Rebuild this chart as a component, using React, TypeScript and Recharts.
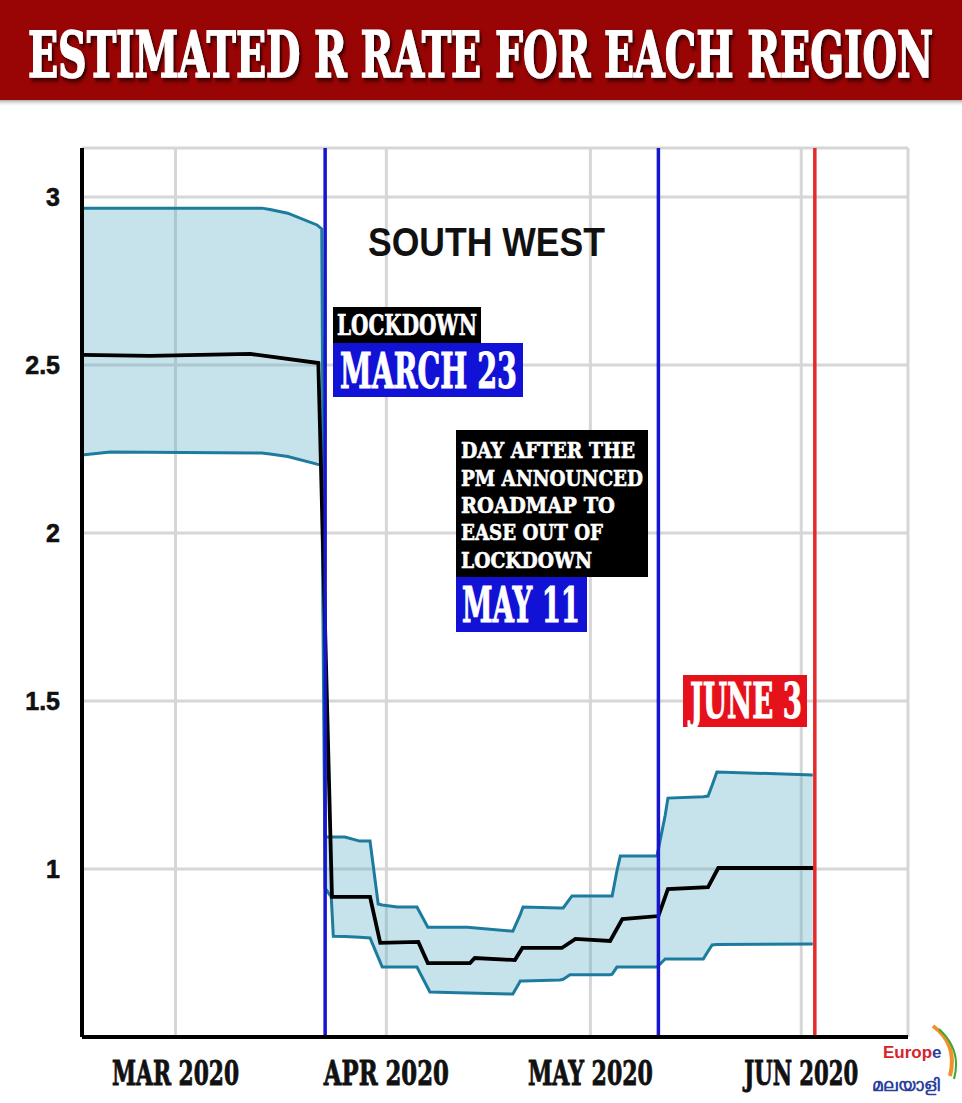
import React from 'react';
import { ComposedChart, Area, Line, XAxis, YAxis, CartesianGrid, ReferenceLine } from 'recharts';

// Days counted from 1 March 2020 (day 0)
const bandDays = [-13.75, -9.6, 12.7, 13.9, 16.5, 20.8, 21.5, 22.0, 22.9, 23.2, 24.9, 27.1, 28.6, 29.8, 30.4, 32.6, 35.5, 37.1, 37.4, 42.9, 49.6, 50.7, 51.1, 56.5, 57.0, 58.0, 58.3, 63.9, 64.2, 64.9, 65.4, 70.8, 72.0, 72.4, 77.6, 78.3, 78.9, 79.6, 93.7];
const bandUpper = [2.967, 2.967, 2.967, 2.963, 2.952, 2.917, 2.905, 1.095, 1.095, 1.095, 1.095, 1.083, 1.083, 0.896, 0.893, 0.887, 0.887, 0.827, 0.827, 0.827, 0.815, 0.865, 0.887, 0.884, 0.884, 0.912, 0.92, 0.92, 0.92, 0.994, 1.039, 1.039, 1.16, 1.211, 1.215, 1.217, 1.249, 1.289, 1.28];
const bandLower = [2.232, 2.241, 2.238, 2.235, 2.228, 2.205, 2.202, 0.943, 0.917, 0.8, 0.799, 0.797, 0.795, 0.737, 0.708, 0.708, 0.708, 0.646, 0.634, 0.631, 0.628, 0.667, 0.667, 0.67, 0.672, 0.685, 0.685, 0.685, 0.687, 0.708, 0.708, 0.708, 0.732, 0.732, 0.732, 0.755, 0.774, 0.775, 0.777];

const medianDays = [-13.75, -3.75, 11.0, 21.0, 23.0, 28.6, 30.1, 35.7, 37.1, 43.3, 44.0, 49.9, 51.0, 56.8, 58.8, 63.9, 65.7, 71.0, 72.4, 78.3, 79.8, 94.0];
const medianR = [2.53, 2.527, 2.533, 2.506, 0.917, 0.917, 0.78, 0.783, 0.72, 0.72, 0.735, 0.729, 0.765, 0.765, 0.792, 0.786, 0.851, 0.86, 0.94, 0.946, 1.003, 1.003];

const monthTicks = [0, 31, 61, 92];
const monthLabels = ['MAR 2020', 'APR 2020', 'MAY 2020', 'JUN 2020'];
const monthLabelWidths = [127, 125, 125, 114];
const rTicks = [1, 1.5, 2, 2.5, 3];
const rTickLabels = ['1', '1.5', '2', '2.5', '3'];

const lockdownDay = 22;
const easeDay = 71;
const juneDay = 94;

const bandData = bandDays.map((d, i) => ({ day: d, range: [bandLower[i], bandUpper[i]], upper: bandUpper[i], lower: bandLower[i] }));
const medianData = medianDays.map((d, i) => ({ day: d, median: medianR[i] }));

const SLAB = "'DejaVu Serif Condensed', 'DejaVu Serif', serif";
const SANS = "'Liberation Sans', Arial, sans-serif";

const XTick = (props: any) => {
  const { x, payload } = props;
  const idx = monthTicks.indexOf(payload.value);
  if (idx < 0) return null;
  return (
    <g transform={`translate(${x} 1085) scale(1 1.42)`}>
      <text x={0} y={0} textAnchor="middle" fontFamily={SLAB} fontWeight="bold" fontSize={24} fill="#111"
        stroke="#111" strokeWidth={0.6} textLength={monthLabelWidths[idx]} lengthAdjust="spacingAndGlyphs">
        {monthLabels[idx]}
      </text>
    </g>
  );
};

const YTick = (props: any) => {
  const { y, payload } = props;
  const idx = rTicks.indexOf(payload.value);
  if (idx < 0) return null;
  return (
    <text x={60} y={y} textAnchor="end" dominantBaseline="central" fontFamily={SANS} fontWeight="bold" fontSize={25}
      fill="#111" stroke="#111" strokeWidth={0.6}>
      {rTickLabels[idx]}
    </text>
  );
};

const Overlay = () => (
  <svg width={962} height={1103} style={{ position: 'absolute', left: 0, top: 0, pointerEvents: 'none' }}>
    <defs>
      <linearGradient id="shadowG" x1="0" y1="0" x2="0" y2="1">
        <stop offset="0" stopColor="#888" stopOpacity="0.7" />
        <stop offset="1" stopColor="#fff" stopOpacity="0" />
      </linearGradient>
      <filter id="ts" x="-5%" y="-30%" width="110%" height="170%">
        <feDropShadow dx="2" dy="2" stdDeviation="1.2" floodColor="#2a0000" floodOpacity="0.9" />
      </filter>
    </defs>
    <rect x={0} y={0} width={962} height={100} fill="#990404" />
    <rect x={0} y={100} width={962} height={7} fill="url(#shadowG)" />
    <g transform="translate(28 77) scale(1 1.6)">
      <text x={0} y={0} fontFamily={SLAB} fontWeight="bold" fontSize={40} fill="#fff" stroke="#fff" strokeWidth={0.9}
        textLength={905} lengthAdjust="spacingAndGlyphs" filter="url(#ts)">ESTIMATED R RATE FOR EACH REGION</text>
    </g>

    <text x={368} y={256} fontFamily={SANS} fontWeight="bold" fontSize={41} fill="#111" textLength={237}
      lengthAdjust="spacingAndGlyphs">SOUTH WEST</text>

    <rect x={333} y={307} width={148} height={36} fill="#000" />
    <text x={337} y={335} fontFamily={SLAB} fontWeight="bold" fontSize={27} fill="#fff" stroke="#fff" strokeWidth={0.6}
      textLength={140} lengthAdjust="spacingAndGlyphs">LOCKDOWN</text>
    <rect x={333} y={343} width={190} height={54} fill="#1212d6" />
    <text x={340} y={388} fontFamily={SLAB} fontWeight="bold" fontSize={48} fill="#fff" stroke="#fff" strokeWidth={1}
      textLength={177} lengthAdjust="spacingAndGlyphs">MARCH 23</text>

    <rect x={456} y={430} width={192} height={147} fill="#000" />
    {[
      ['DAY AFTER THE', 458, 174],
      ['PM ANNOUNCED', 486, 182],
      ['ROADMAP TO', 513, 154],
      ['EASE OUT OF', 540, 142],
      ['LOCKDOWN', 568, 131],
    ].map(([t, y, w]) => (
      <text key={t as string} x={461} y={y as number} fontFamily={SLAB} fontWeight="bold" fontSize={23} fill="#fff"
        stroke="#fff" strokeWidth={0.6} textLength={w as number} lengthAdjust="spacingAndGlyphs">{t}</text>
    ))}
    <rect x={456} y={577} width={131} height={55} fill="#1212d6" />
    <text x={462} y={622} fontFamily={SLAB} fontWeight="bold" fontSize={48} fill="#fff" stroke="#fff" strokeWidth={1}
      textLength={118} lengthAdjust="spacingAndGlyphs">MAY 11</text>

    <rect x={683} y={675} width={124} height={52} fill="#e5121c" />
    <text x={690} y={718} fontFamily={SLAB} fontWeight="bold" fontSize={48} fill="#fff" stroke="#fff" strokeWidth={1}
      textLength={112} lengthAdjust="spacingAndGlyphs">JUNE 3</text>

    <path d="M 933 1026 Q 958 1044 950 1076" stroke="#f0902a" strokeWidth={4} fill="none" />
    <path d="M 939 1029 Q 962 1050 954 1079" stroke="#3fa535" strokeWidth={2} fill="none" />
    <text x={883} y={1058} fontFamily={SANS} fontWeight="bold" fontSize={17} fill="#d8232a">Europ<tspan fill="#2a3f9e">e</tspan></text>
    <text x={872} y={1091} fontFamily={SANS} fontWeight="bold" fontSize={17} fill="#2a3f9e">മലയാളി</text>
  </svg>
);

export default function App() {
  return (
    <div style={{ position: 'absolute', left: 0, top: 0, width: 962, height: 1103, background: '#fff' }}>
      <ComposedChart width={962} height={1103} margin={{ top: 148, right: 54, bottom: 0, left: 22 }}>
        <CartesianGrid stroke="#d6d6d6" strokeWidth={3} />
        <XAxis type="number" dataKey="day" domain={[-13.75, 107.7]} ticks={monthTicks} allowDataOverflow
          axisLine={{ stroke: '#000', strokeWidth: 4 }} tickLine={false} tick={<XTick />} height={66} interval={0} />
        <YAxis type="number" domain={[0.5, 3.146]} ticks={rTicks} allowDataOverflow width={60}
          axisLine={{ stroke: '#000', strokeWidth: 4 }} tickLine={false} tick={<YTick />} interval={0} />
        <Area data={bandData} dataKey="range" type="linear" stroke="none" fill="#58adc8" fillOpacity={0.34}
          isAnimationActive={false} />
        <Line data={bandData} dataKey="upper" type="linear" stroke="#1d7c9e" strokeWidth={3} dot={false}
          isAnimationActive={false} />
        <Line data={bandData} dataKey="lower" type="linear" stroke="#1d7c9e" strokeWidth={3} dot={false}
          isAnimationActive={false} />
        <Line data={medianData} dataKey="median" type="linear" stroke="#000" strokeWidth={3.8} dot={false}
          isAnimationActive={false} />
        <ReferenceLine x={lockdownDay} stroke="#1616cc" strokeWidth={3.5} />
        <ReferenceLine x={easeDay} stroke="#1616cc" strokeWidth={3.5} />
        <ReferenceLine x={juneDay} stroke="#e52a2a" strokeWidth={3.5} />
      </ComposedChart>
      <Overlay />
    </div>
  );
}
